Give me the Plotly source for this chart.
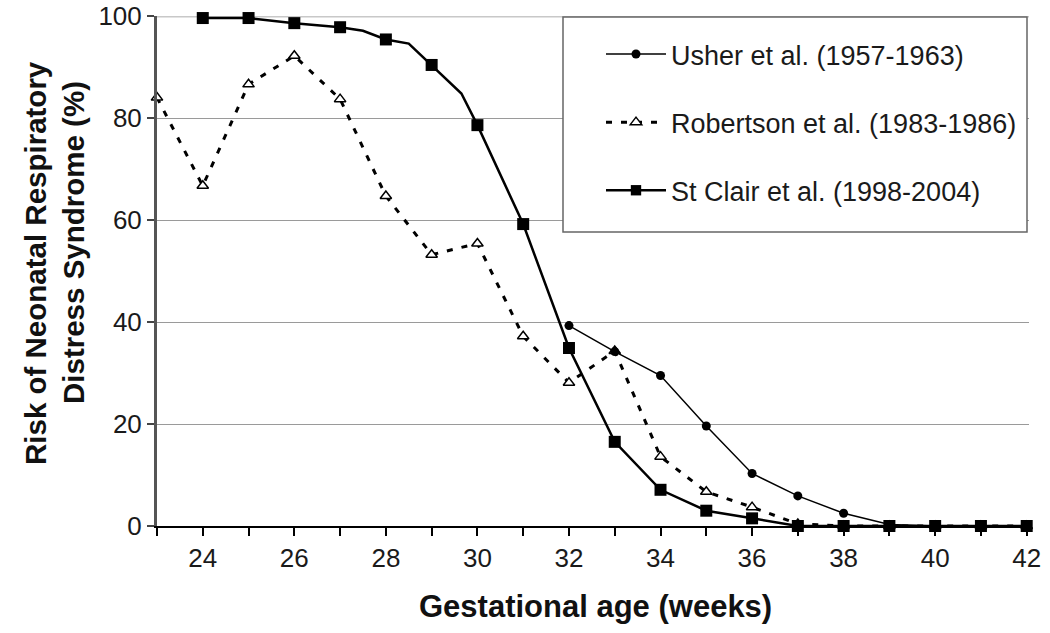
import plotly.graph_objects as go

# ---------------- data ----------------
usher_weeks = [32, 33, 34, 35, 36, 37, 38, 39, 40, 41, 42]
usher_risk = [39.3, 34.2, 29.5, 19.6, 10.3, 5.9, 2.5, 0.3, 0, 0, 0]

robertson_weeks = [23, 24, 25, 26, 27, 28, 29, 30, 31, 32, 33, 34, 35, 36, 37, 38, 39, 40, 41, 42]
robertson_risk = [84.0, 66.7, 86.6, 92.2, 83.7, 64.7, 53.2, 55.4, 37.2, 28.1, 34.3, 13.6, 6.7, 3.7, 0.4, 0, 0, 0, 0, 0]

# St Clair curve (weekly points plus a few intermediate curve vertices)
stclair_weeks = [24, 25, 26, 27, 27.5, 28, 28.5, 29, 29.65, 30, 31, 32, 33, 34, 35, 36, 37, 38, 39, 40, 41, 42]
stclair_risk = [99.6, 99.6, 98.6, 97.8, 97.1, 95.4, 94.6, 90.4, 84.8, 78.6, 59.2, 34.9, 16.5, 7.1, 3.0, 1.5, 0, 0, 0, 0, 0, 0]

series_names = ["Usher et al. (1957-1963)", "Robertson et al. (1983-1986)", "St Clair et al. (1998-2004)"]
x_title = "Gestational age (weeks)"
y_title_lines = ["Risk of Neonatal Respiratory", "Distress Syndrome (%)"]

FONT = "Liberation Sans, Arial, Helvetica, sans-serif"

# ---------------- layout geometry ----------------
W, H = 1050, 633
ML, MR, MT, MB = 157, 21, 16, 107
PW = W - ML - MR
PH = H - MT - MB


def px_x(p):
    return (p - ML) / PW


def px_y(p):
    return (H - MB - p) / PH


fig = go.Figure()

# Robertson (dashed, open triangles)
fig.add_trace(go.Scatter(
    x=robertson_weeks, y=robertson_risk, name=series_names[1],
    mode="lines+markers", legendgroup="r", legendrank=2,
    line=dict(color="black", width=3, dash="6px,9px"),
    marker=dict(symbol="triangle-up", size=10, color="white", opacity=1,
                line=dict(color="black", width=1.5)),
    cliponaxis=False,
))

# Usher (thin line, small filled circles)
fig.add_trace(go.Scatter(
    x=usher_weeks, y=usher_risk, name=series_names[0],
    mode="lines+markers", legendgroup="u", legendrank=1,
    line=dict(color="black", width=1.5),
    marker=dict(symbol="circle", size=9, color="black", opacity=1),
    cliponaxis=False,
))

# St Clair (thick line, filled squares at whole weeks only)
sq_sizes = [12 if float(w).is_integer() else 0 for w in stclair_weeks]
fig.add_trace(go.Scatter(
    x=stclair_weeks, y=stclair_risk, name=series_names[2],
    mode="lines+markers", legendgroup="s", legendrank=3,
    line=dict(color="black", width=2.5),
    marker=dict(symbol="square", size=sq_sizes, color="black", opacity=1,
                line=dict(width=0)),
    cliponaxis=False,
))

shapes = [
    # light top line at 100
    dict(type="line", xref="paper", x0=0, x1=1, yref="y", y0=100, y1=100,
         line=dict(color="#c8c8c8", width=3), layer="below"),
    # legend box
    dict(type="rect", xref="paper", yref="paper",
         x0=px_x(563), x1=px_x(1027), y0=px_y(232), y1=px_y(17),
         fillcolor="white", line=dict(color="#666666", width=1.5), layer="above"),
]

annotations = [
    dict(text=y_title_lines[0], xref="paper", yref="paper", x=px_x(35), y=px_y(263),
         xanchor="center", yanchor="middle", textangle=-90, showarrow=False,
         font=dict(family=FONT, size=29.5, color="#111", weight="bold")),
    dict(text=y_title_lines[1], xref="paper", yref="paper", x=px_x(73), y=px_y(243),
         xanchor="center", yanchor="middle", textangle=-90, showarrow=False,
         font=dict(family=FONT, size=29.5, color="#111", weight="bold")),
    dict(text=x_title, xref="paper", yref="paper", x=px_x(595), y=px_y(607),
         xanchor="center", yanchor="middle", showarrow=False,
         font=dict(family=FONT, size=31, color="#111", weight="bold")),
]

fig.update_layout(
    width=W, height=H, autosize=False,
    margin=dict(l=ML, r=MR, t=MT, b=MB, pad=0),
    paper_bgcolor="white", plot_bgcolor="white",
    font=dict(family=FONT, size=26, color="#1a1a1a"),
    showlegend=True,
    legend=dict(
        x=px_x(601), y=px_y(30), xanchor="left", yanchor="top",
        bgcolor="rgba(0,0,0,0)", borderwidth=0,
        traceorder="grouped", tracegroupgap=30,
        itemwidth=60,
        font=dict(family=FONT, size=27, color="#1a1a1a"),
    ),
    shapes=shapes,
    annotations=annotations,
    xaxis=dict(
        range=[23, 42.05], tick0=24, dtick=2, automargin=False,
        ticks="outside", ticklen=8, tickwidth=2, tickcolor="black",
        minor=dict(dtick=1, tick0=23, ticks="outside", ticklen=8, tickwidth=2, tickcolor="black"),
        showline=True, linecolor="black", linewidth=2,
        showgrid=False, zeroline=False,
        tickfont=dict(family=FONT, size=26, color="#1a1a1a"),
    ),
    yaxis=dict(
        range=[0, 100], tick0=0, dtick=20, automargin=False,
        ticks="outside", ticklen=7, tickwidth=1.5, tickcolor="#444",
        showline=True, linecolor="#555", linewidth=3,
        showgrid=True, gridcolor="#9a9a9a", gridwidth=1,
        zeroline=False,
        tickfont=dict(family=FONT, size=26, color="#1a1a1a"),
    ),
)

fig.write_html("out.html",
               config={"displayModeBar": False},
               post_script="document.body.style.margin='0';document.body.style.overflow='hidden';")
